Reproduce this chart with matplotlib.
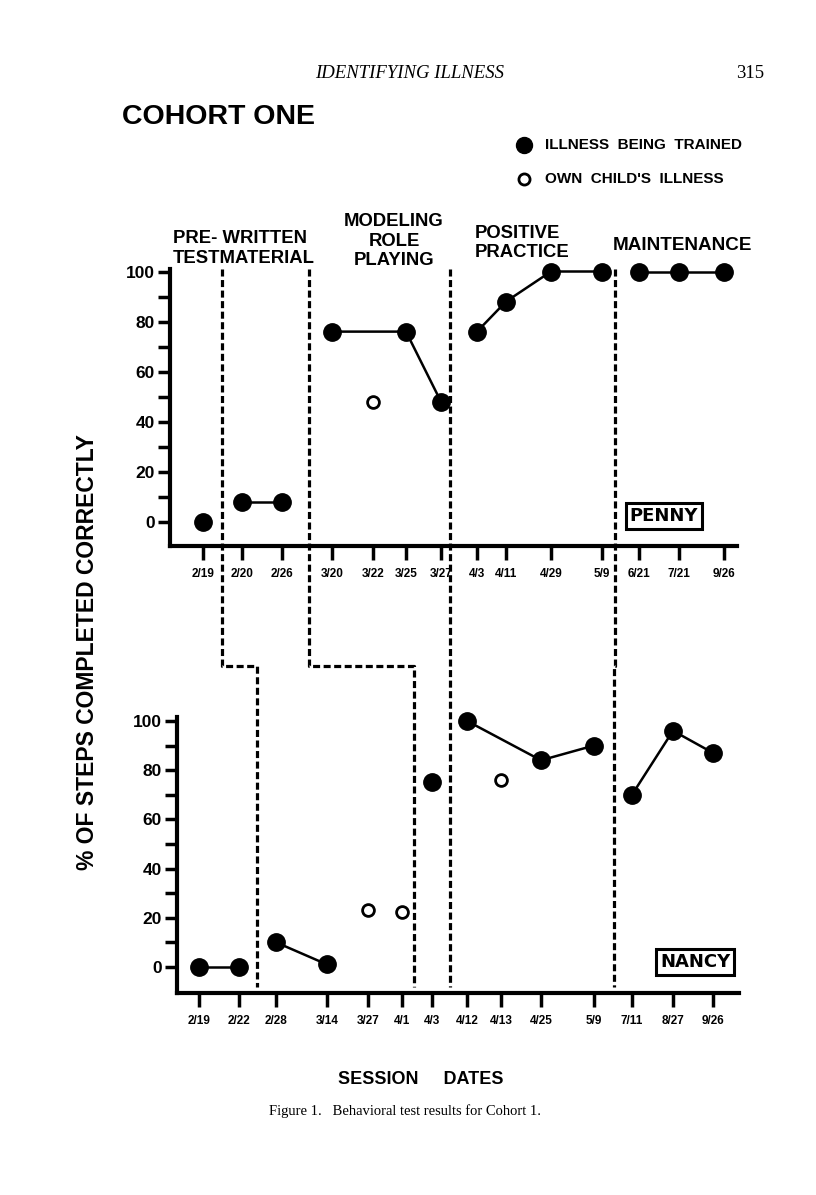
import numpy as np
import matplotlib
matplotlib.use('Agg')
import matplotlib.pyplot as plt

plt.rcParams['font.family'] = ['Liberation Sans', 'DejaVu Sans']
plt.rcParams['font.weight'] = 'bold'

nan = np.nan

# PENNY - session dates, their position along the axis, phase and scores (%)
penny_dates = ['2/19', '2/20', '2/26', '3/20', '3/22', '3/25', '3/27',
               '4/3', '4/11', '4/29', '5/9', '6/21', '7/21', '9/26']
penny_pos = [33, 72, 112, 162, 203, 236, 271, 307, 336, 381, 432, 469, 509, 554]
penny_phase = [0, 1, 1, 2, 2, 2, 2, 3, 3, 3, 3, 4, 4, 4]
penny_trained = [0, 8, 8, 76, nan, 76, 48, 76, 88, 100, 100, 100, 100, 100]
penny_own = [nan, nan, nan, nan, 48, nan, nan, nan, nan, nan, nan, nan, nan, nan]
penny_bounds = [52, 139, 280, 445]

# NANCY
nancy_dates = ['2/19', '2/22', '2/28', '3/14', '3/27', '4/1', '4/3',
               '4/12', '4/13', '4/25', '5/9', '7/11', '8/27', '9/26']
nancy_pos = [22, 62, 99, 150, 191, 225, 255, 290, 324, 364, 417, 455, 496, 536]
nancy_phase = [0, 0, 1, 1, 1, 1, 2, 3, 3, 3, 3, 4, 4, 4]
nancy_trained = [0, 0, 10, 1, nan, nan, 75, 100, nan, 84, 90, 70, 96, 87]
nancy_own = [nan, nan, nan, nan, 23, 22.5, nan, nan, 76, nan, nan, nan, nan, nan]
nancy_bounds = [80, 237, 273, 437]

W, H = 816, 1195
fig = plt.figure(figsize=(W / 100, H / 100), dpi=100)


def box(l, t, r, b):
    return [l / W, 1 - b / H, (r - l) / W, (b - t) / H]


top = fig.add_axes(box(170, 269, 737, 546))
bot = fig.add_axes(box(177, 717, 739, 993))
ov = fig.add_axes([0, 0, 1, 1], zorder=5)
ov.set_xlim(0, W)
ov.set_ylim(H, 0)
ov.axis('off')


def draw_panel(ax, pos, dates, phase, trained, own, ylo, yhi, name, name_xy):
    ax.set_facecolor('none')
    ax.set_xlim(0, ax.get_position().width * W)
    ax.set_ylim(ylo, yhi)
    for s in ['top', 'right']:
        ax.spines[s].set_visible(False)
    ax.spines['left'].set_linewidth(3)
    ax.spines['bottom'].set_linewidth(3)
    ax.set_yticks([0, 20, 40, 60, 80, 100])
    ax.set_yticks([10, 30, 50, 70, 90], minor=True)
    ax.set_xticks(pos)
    ax.set_xticklabels(dates)
    ax.tick_params(axis='y', which='both', length=9, width=2.5, labelsize=12.5, pad=2)
    ax.tick_params(axis='x', length=10, width=2.5, labelsize=8.5, pad=6)

    pos = np.array(pos)
    trained = np.array(trained, dtype=float)
    phase = np.array(phase)
    for p in np.unique(phase):
        m = (phase == p) & ~np.isnan(trained)
        ax.plot(pos[m], trained[m], '-o', color='black', lw=1.8, ms=12.5,
                clip_on=False, zorder=3)
    ax.plot(pos, own, 'o', ms=8.5, mfc='white', mec='black', mew=2,
            clip_on=False, zorder=3)
    ax.text(name_xy[0], name_xy[1], name, family='DejaVu Sans', fontsize=13,
            ha='center', va='center',
            bbox=dict(boxstyle='square,pad=0.22', fc='white', ec='black', lw=2.2))


draw_panel(top, penny_pos, penny_dates, penny_phase, penny_trained, penny_own,
           -9.6, 101, 'PENNY', (494, 2.4))
draw_panel(bot, nancy_pos, nancy_dates, nancy_phase, nancy_trained, nancy_own,
           -10.6, 101.6, 'NANCY', (518, 2))


# phase change lines, stepping between the two panels
def to_ov(ax, x, y):
    return ov.transData.inverted().transform(ax.transData.transform((x, y)))


step_y = 666
for tx, bx in zip(penny_bounds, nancy_bounds):
    x0, y0 = to_ov(top, tx, 101)
    x1, y1 = to_ov(bot, bx, -8)
    ov.plot([x0, x0, x1, x1], [y0, step_y, step_y, y1], color='black', lw=2.3,
            ls=(0, (2.2, 1.1)), dash_capstyle='butt')

# headings
ov.text(410, 73, 'IDENTIFYING ILLNESS', family='Liberation Serif', style='italic',
        weight='normal', fontsize=13.5, ha='center', va='center')
ov.text(750, 73, '315', family='Liberation Serif', weight='normal', fontsize=13.5,
        ha='center', va='center')
ov.text(122, 117, 'COHORT ONE', fontsize=20.5, ha='left', va='center')

ov.plot([524], [145], 'o', color='black', ms=11.5)
ov.text(545, 145, 'ILLNESS  BEING  TRAINED', fontsize=11, ha='left', va='center')
ov.plot([524], [179], 'o', ms=8, mfc='white', mec='black', mew=2)
ov.text(545, 179, "OWN  CHILD'S  ILLNESS", fontsize=11, ha='left', va='center')

ov.text(173, 238, 'PRE- WRITTEN', fontsize=13.3, ha='left', va='center')
ov.text(173, 258, 'TESTMATERIAL', fontsize=13.3, ha='left', va='center')
ov.text(394, 241, 'MODELING\nROLE\nPLAYING', fontsize=13.3, ha='center',
        va='center', linespacing=1.2)
ov.text(475, 243, 'POSITIVE\nPRACTICE', fontsize=13.3, ha='left', va='center',
        linespacing=1.2)
ov.text(613, 245, 'MAINTENANCE', fontsize=13.6, ha='left', va='center')

ov.text(88, 652, '% OF STEPS COMPLETED CORRECTLY', rotation=90, fontsize=16.5,
        ha='center', va='center')
ov.text(421, 1080, 'SESSION     DATES', fontsize=13, ha='center', va='center')
ov.text(405, 1111, 'Figure 1.   Behavioral test results for Cohort 1.',
        family='Liberation Serif', weight='normal', fontsize=10.5, ha='center',
        va='center')

fig.savefig('out.png', dpi=100)
